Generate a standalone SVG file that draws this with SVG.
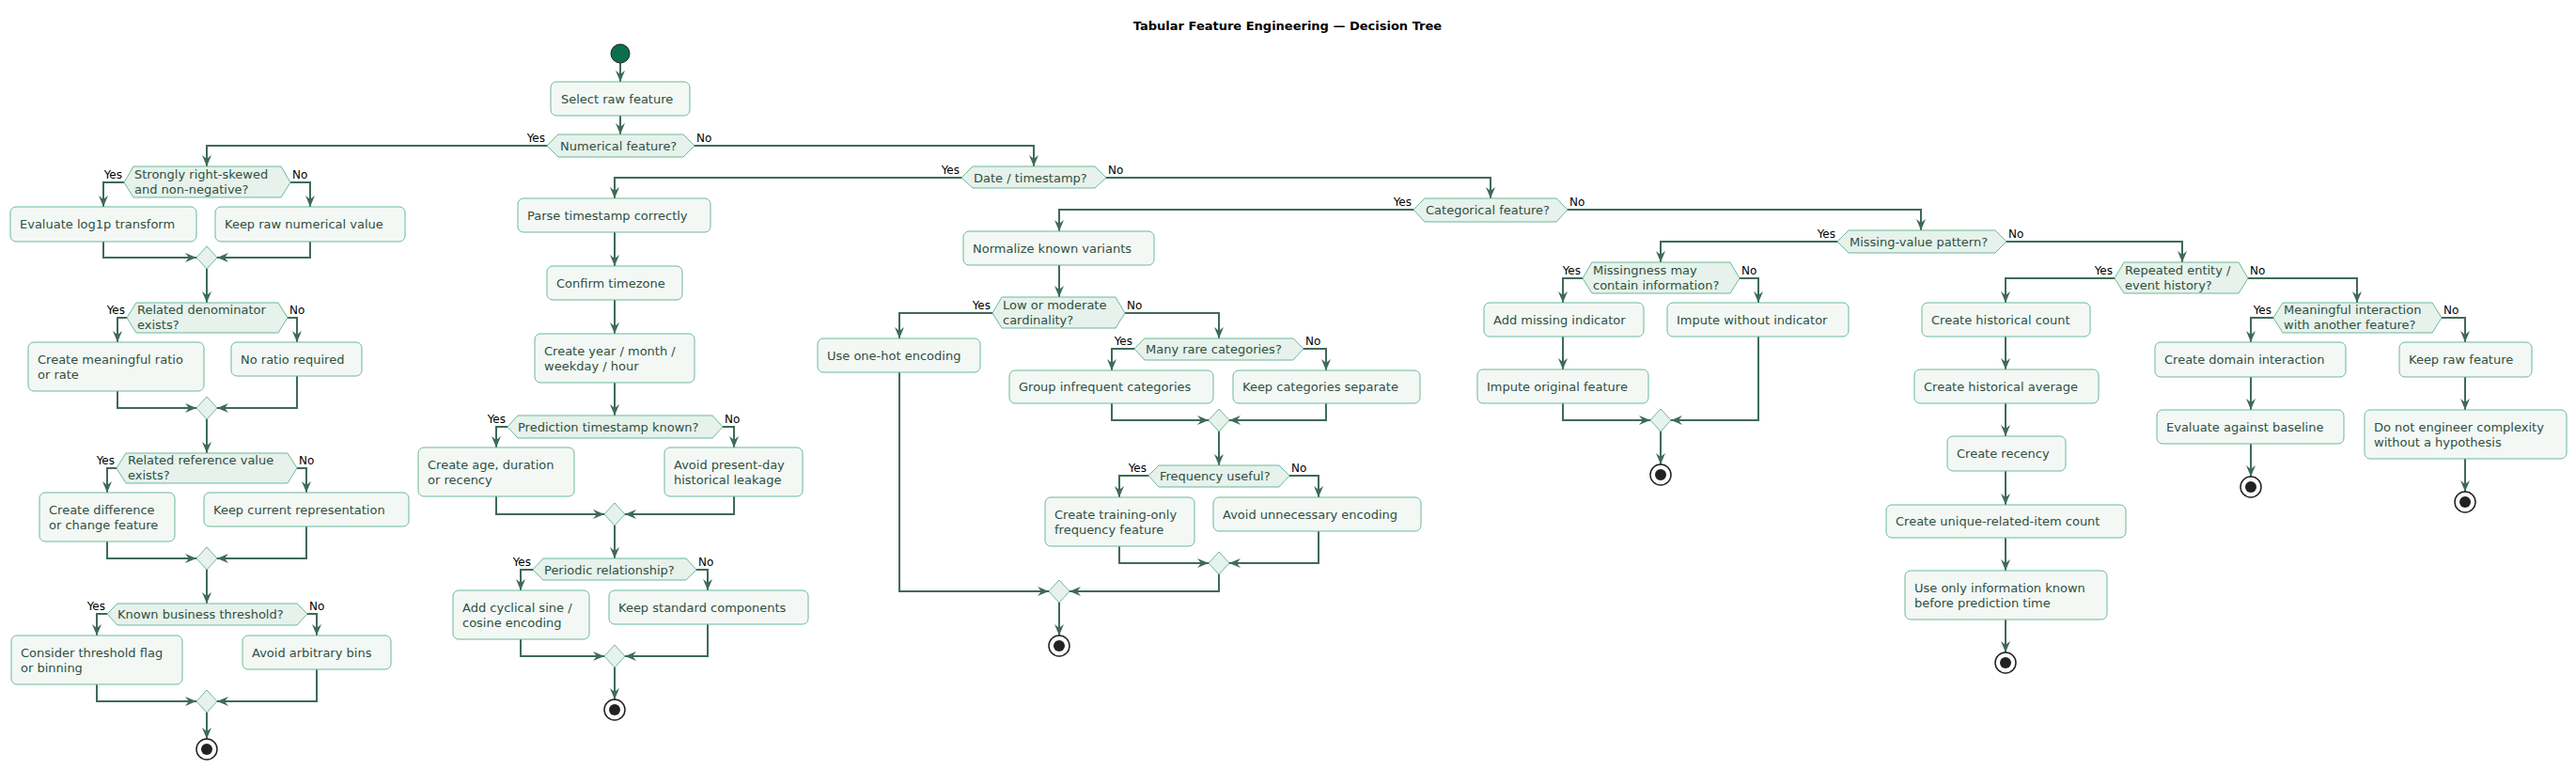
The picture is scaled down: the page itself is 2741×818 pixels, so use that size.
<svg xmlns="http://www.w3.org/2000/svg" width="2741" height="818" viewBox="0 0 2741 818">
<style>
.b{fill:#f3f8f5;stroke:#6bb99a;stroke-width:1}
.d{fill:#e6f2eb;stroke:#6bb99a;stroke-width:1}
.t{fill:#2f4f42;font-family:"DejaVu Sans",sans-serif;font-size:13px}
.l{fill:#000;font-family:"DejaVu Sans",sans-serif;font-size:12px}
.c{fill:none;stroke:#3f6a58;stroke-width:2}
.e1{fill:#fff;stroke:#222;stroke-width:1.5}
.e2{fill:#222}
</style>
<defs>
<marker id="a" markerUnits="userSpaceOnUse" markerWidth="12" markerHeight="10" refX="12" refY="5" orient="auto"><path d="M0,0 L12,5 L0,10 L4,5 z" fill="#3f6a58"/></marker>
</defs>
<rect width="2741" height="818" fill="#fff"/>
<text x="1370" y="32" text-anchor="middle" style="font-family:'DejaVu Sans',sans-serif;font-size:13px;font-weight:bold">Tabular Feature Engineering — Decision Tree</text>
<g id="connectors" class="c" marker-end="url(#a)">
<polyline points="660,67 660,87"/><polyline points="660,123 660,143"/>
<polyline points="582,155 220,155 220,177"/><polyline points="739,155 1100,155 1100,177"/>
<polyline points="132,194 110,194 110,220"/><polyline points="309,194 330,194 330,220"/>
<polyline points="110,257 110,274 209,274"/><polyline points="330,257 330,274 231,274"/>
<polyline points="220,286 220,322"/>
<polyline points="135,338 125,338 125,364"/><polyline points="306,338 316,338 316,364"/>
<polyline points="125,416 125,434 209,434"/><polyline points="316,400 316,434 231,434"/>
<polyline points="220,446 220,482"/>
<polyline points="124,498 114,498 114,524"/><polyline points="316,498 326,498 326,524"/>
<polyline points="114,576 114,594 209,594"/><polyline points="326,560 326,594 231,594"/>
<polyline points="220,606 220,642"/>
<polyline points="114,653 103,653 103,676"/><polyline points="327,653 337,653 337,676"/>
<polyline points="103,728 103,746 209,746"/><polyline points="337,712 337,746 231,746"/>
<polyline points="220,758 220,786"/>
<polyline points="1023,189 654,189 654,211"/><polyline points="1177,189 1586,189 1586,211"/>
<polyline points="654,247 654,283"/><polyline points="654,319 654,355"/><polyline points="654,407 654,442"/>
<polyline points="540,454 528,454 528,476"/><polyline points="769,454 781,454 781,476"/>
<polyline points="528,528 528,547 643,547"/><polyline points="781,528 781,547 665,547"/>
<polyline points="654,559 654,594"/>
<polyline points="567,606 554,606 554,628"/><polyline points="741,606 753,606 753,628"/>
<polyline points="554,680 554,698 643,698"/><polyline points="753,664 753,698 665,698"/>
<polyline points="654,710 654,744"/>
<polyline points="1504,223 1127,223 1127,246"/><polyline points="1668,223 2044,223 2044,245"/>
<polyline points="1127,282 1127,316"/>
<polyline points="1056,333 957,333 957,360"/><polyline points="1197,333 1297,333 1297,360"/>
<polyline points="957,396 957,629 1116,629"/>
<polyline points="1207,371 1183,371 1183,394"/><polyline points="1387,371 1411,371 1411,394"/>
<polyline points="1183,429 1183,447 1286,447"/><polyline points="1411,429 1411,447 1308,447"/>
<polyline points="1297,459 1297,495"/>
<polyline points="1222,506 1191,506 1191,529"/><polyline points="1372,506 1403,506 1403,529"/>
<polyline points="1191,581 1191,599 1286,599"/><polyline points="1403,565 1403,599 1308,599"/>
<polyline points="1297,611 1297,629 1138,629"/>
<polyline points="1127,641 1127,676"/>
<polyline points="1955,257 1767,257 1767,279"/><polyline points="2135,257 2322,257 2322,279"/>
<polyline points="1684,296 1663,296 1663,322"/><polyline points="1851,296 1871,296 1871,322"/>
<polyline points="1663,358 1663,393"/>
<polyline points="1663,429 1663,447 1756,447"/><polyline points="1871,358 1871,447 1778,447"/>
<polyline points="1767,459 1767,494"/>
<polyline points="2250,296 2134,296 2134,322"/><polyline points="2392,296 2508,296 2508,322"/>
<polyline points="2134,358 2134,393"/><polyline points="2134,429 2134,464"/><polyline points="2134,501 2134,537"/><polyline points="2134,572 2134,607"/><polyline points="2134,659 2134,694"/>
<polyline points="2419,338 2395,338 2395,364"/><polyline points="2598,338 2623,338 2623,364"/>
<polyline points="2395,401 2395,436"/><polyline points="2395,472 2395,507"/>
<polyline points="2623,401 2623,436"/><polyline points="2623,488 2623,523"/>
</g>
<g id="labels" class="l">
<text x="580" y="151" text-anchor="end">Yes</text><text x="741" y="151">No</text>
<text x="130" y="190" text-anchor="end">Yes</text><text x="311" y="190">No</text>
<text x="133" y="334" text-anchor="end">Yes</text><text x="308" y="334">No</text>
<text x="122" y="494" text-anchor="end">Yes</text><text x="318" y="494">No</text>
<text x="112" y="649" text-anchor="end">Yes</text><text x="329" y="649">No</text>
<text x="1021" y="185" text-anchor="end">Yes</text><text x="1179" y="185">No</text>
<text x="538" y="450" text-anchor="end">Yes</text><text x="771" y="450">No</text>
<text x="565" y="602" text-anchor="end">Yes</text><text x="743" y="602">No</text>
<text x="1502" y="219" text-anchor="end">Yes</text><text x="1670" y="219">No</text>
<text x="1054" y="329" text-anchor="end">Yes</text><text x="1199" y="329">No</text>
<text x="1205" y="367" text-anchor="end">Yes</text><text x="1389" y="367">No</text>
<text x="1220" y="502" text-anchor="end">Yes</text><text x="1374" y="502">No</text>
<text x="1953" y="253" text-anchor="end">Yes</text><text x="2137" y="253">No</text>
<text x="1682" y="292" text-anchor="end">Yes</text><text x="1853" y="292">No</text>
<text x="2248" y="292" text-anchor="end">Yes</text><text x="2394" y="292">No</text>
<text x="2417" y="334" text-anchor="end">Yes</text><text x="2600" y="334">No</text>
</g>
<g id="start"><circle cx="660" cy="57" r="10" fill="#0b6e4f" stroke="#222" stroke-width="1"/></g>
<g id="n_select"><rect class="b" x="586" y="87" width="148" height="36" rx="6"/><text class="t" x="597" y="110">Select raw feature</text></g>
<g id="d_numerical"><polygon class="d" points="582,155 594,143 727,143 739,155 727,167 594,167"/><text class="t" x="596" y="160">Numerical feature?</text></g>
<g id="d_skewed"><polygon class="d" points="132,194 142,177 299,177 309,194 299,210 142,210"/><text class="t" x="143" y="190">Strongly right-skewed</text><text class="t" x="143" y="206">and non-negative?</text></g>
<g id="n_log1p"><rect class="b" x="11" y="220" width="198" height="37" rx="6"/><text class="t" x="21" y="243">Evaluate log1p transform</text></g>
<g id="n_keepnum"><rect class="b" x="229" y="220" width="202" height="37" rx="6"/><text class="t" x="239" y="243">Keep raw numerical value</text></g>
<g id="m1"><polygon class="d" points="220,262 231,274 220,286 209,274"/></g>
<g id="d_denom"><polygon class="d" points="135,338 145,322 296,322 306,338 296,354 145,354"/><text class="t" x="146" y="334">Related denominator</text><text class="t" x="146" y="350">exists?</text></g>
<g id="n_ratio"><rect class="b" x="30" y="364" width="187" height="52" rx="6"/><text class="t" x="40" y="387">Create meaningful ratio</text><text class="t" x="40" y="403">or rate</text></g>
<g id="n_noratio"><rect class="b" x="246" y="364" width="139" height="36" rx="6"/><text class="t" x="256" y="387">No ratio required</text></g>
<g id="m2"><polygon class="d" points="220,422 231,434 220,446 209,434"/></g>
<g id="d_reference"><polygon class="d" points="124,498 134,482 306,482 316,498 306,514 134,514"/><text class="t" x="136" y="494">Related reference value</text><text class="t" x="136" y="510">exists?</text></g>
<g id="n_diff"><rect class="b" x="42" y="524" width="144" height="52" rx="6"/><text class="t" x="52" y="547">Create difference</text><text class="t" x="52" y="563">or change feature</text></g>
<g id="n_keepcur"><rect class="b" x="217" y="524" width="218" height="36" rx="6"/><text class="t" x="227" y="547">Keep current representation</text></g>
<g id="m3"><polygon class="d" points="220,582 231,594 220,606 209,594"/></g>
<g id="d_threshold"><polygon class="d" points="114,653 125,642 316,642 327,653 316,665 125,665"/><text class="t" x="125" y="658">Known business threshold?</text></g>
<g id="n_flag"><rect class="b" x="12" y="676" width="182" height="52" rx="6"/><text class="t" x="22" y="699">Consider threshold flag</text><text class="t" x="22" y="715">or binning</text></g>
<g id="n_bins"><rect class="b" x="258" y="676" width="158" height="36" rx="6"/><text class="t" x="268" y="699">Avoid arbitrary bins</text></g>
<g id="m4"><polygon class="d" points="220,734 231,746 220,758 209,746"/></g>
<g id="end1"><circle class="e1" cx="220" cy="797" r="11"/><circle class="e2" cx="220" cy="797" r="6"/></g>
<g id="d_date"><polygon class="d" points="1023,189 1035,177 1165,177 1177,189 1165,200 1035,200"/><text class="t" x="1036" y="194">Date / timestamp?</text></g>
<g id="n_parse"><rect class="b" x="551" y="211" width="205" height="36" rx="6"/><text class="t" x="561" y="234">Parse timestamp correctly</text></g>
<g id="n_tz"><rect class="b" x="582" y="283" width="144" height="36" rx="6"/><text class="t" x="592" y="306">Confirm timezone</text></g>
<g id="n_year"><rect class="b" x="569" y="355" width="170" height="52" rx="6"/><text class="t" x="579" y="378">Create year / month /</text><text class="t" x="579" y="394">weekday / hour</text></g>
<g id="d_predts"><polygon class="d" points="540,454 551,442 758,442 769,454 758,466 551,466"/><text class="t" x="551" y="459">Prediction timestamp known?</text></g>
<g id="n_age"><rect class="b" x="445" y="476" width="166" height="52" rx="6"/><text class="t" x="455" y="499">Create age, duration</text><text class="t" x="455" y="515">or recency</text></g>
<g id="n_leak"><rect class="b" x="707" y="476" width="147" height="52" rx="6"/><text class="t" x="717" y="499">Avoid present-day</text><text class="t" x="717" y="515">historical leakage</text></g>
<g id="m5"><polygon class="d" points="654,535 665,547 654,559 643,547"/></g>
<g id="d_periodic"><polygon class="d" points="567,606 578,594 730,594 741,606 730,617 578,617"/><text class="t" x="579" y="611">Periodic relationship?</text></g>
<g id="n_cyc"><rect class="b" x="482" y="628" width="145" height="52" rx="6"/><text class="t" x="492" y="651">Add cyclical sine /</text><text class="t" x="492" y="667">cosine encoding</text></g>
<g id="n_std"><rect class="b" x="648" y="628" width="212" height="36" rx="6"/><text class="t" x="658" y="651">Keep standard components</text></g>
<g id="m6"><polygon class="d" points="654,686 665,698 654,710 643,698"/></g>
<g id="end2"><circle class="e1" cx="654" cy="755" r="11"/><circle class="e2" cx="654" cy="755" r="6"/></g>
<g id="d_cat"><polygon class="d" points="1504,223 1516,211 1656,211 1668,223 1656,236 1516,236"/><text class="t" x="1517" y="228">Categorical feature?</text></g>
<g id="n_norm"><rect class="b" x="1025" y="246" width="203" height="36" rx="6"/><text class="t" x="1035" y="269">Normalize known variants</text></g>
<g id="d_lowcard"><polygon class="d" points="1056,333 1066,316 1187,316 1197,333 1187,349 1066,349"/><text class="t" x="1067" y="329">Low or moderate</text><text class="t" x="1067" y="345">cardinality?</text></g>
<g id="n_onehot"><rect class="b" x="870" y="360" width="173" height="36" rx="6"/><text class="t" x="880" y="383">Use one-hot encoding</text></g>
<g id="d_rare"><polygon class="d" points="1207,371 1218,360 1376,360 1387,371 1376,383 1218,383"/><text class="t" x="1219" y="376">Many rare categories?</text></g>
<g id="n_group"><rect class="b" x="1074" y="394" width="217" height="35" rx="6"/><text class="t" x="1084" y="416">Group infrequent categories</text></g>
<g id="n_sep"><rect class="b" x="1312" y="394" width="199" height="35" rx="6"/><text class="t" x="1322" y="416">Keep categories separate</text></g>
<g id="m7"><polygon class="d" points="1297,435 1308,447 1297,459 1286,447"/></g>
<g id="d_freq"><polygon class="d" points="1222,506 1233,495 1361,495 1372,506 1361,518 1233,518"/><text class="t" x="1234" y="511">Frequency useful?</text></g>
<g id="n_freqf"><rect class="b" x="1112" y="529" width="159" height="52" rx="6"/><text class="t" x="1122" y="552">Create training-only</text><text class="t" x="1122" y="568">frequency feature</text></g>
<g id="n_unnec"><rect class="b" x="1291" y="529" width="221" height="36" rx="6"/><text class="t" x="1301" y="552">Avoid unnecessary encoding</text></g>
<g id="m8"><polygon class="d" points="1297,587 1308,599 1297,611 1286,599"/></g>
<g id="m9"><polygon class="d" points="1127,617 1138,629 1127,641 1116,629"/></g>
<g id="end3"><circle class="e1" cx="1127" cy="687" r="11"/><circle class="e2" cx="1127" cy="687" r="6"/></g>
<g id="d_missing"><polygon class="d" points="1955,257 1967,245 2123,245 2135,257 2123,269 1967,269"/><text class="t" x="1968" y="262">Missing-value pattern?</text></g>
<g id="d_missinfo"><polygon class="d" points="1684,296 1694,279 1841,279 1851,296 1841,312 1694,312"/><text class="t" x="1695" y="292">Missingness may</text><text class="t" x="1695" y="308">contain information?</text></g>
<g id="n_addind"><rect class="b" x="1579" y="322" width="170" height="36" rx="6"/><text class="t" x="1589" y="345">Add missing indicator</text></g>
<g id="n_impwo"><rect class="b" x="1774" y="322" width="193" height="36" rx="6"/><text class="t" x="1784" y="345">Impute without indicator</text></g>
<g id="n_imporig"><rect class="b" x="1572" y="393" width="182" height="36" rx="6"/><text class="t" x="1582" y="416">Impute original feature</text></g>
<g id="m10"><polygon class="d" points="1767,435 1778,447 1767,459 1756,447"/></g>
<g id="end4"><circle class="e1" cx="1767" cy="505" r="11"/><circle class="e2" cx="1767" cy="505" r="6"/></g>
<g id="d_repeated"><polygon class="d" points="2250,296 2260,279 2382,279 2392,296 2382,312 2260,312"/><text class="t" x="2261" y="292">Repeated entity /</text><text class="t" x="2261" y="308">event history?</text></g>
<g id="n_hcount"><rect class="b" x="2045" y="322" width="179" height="36" rx="6"/><text class="t" x="2055" y="345">Create historical count</text></g>
<g id="n_havg"><rect class="b" x="2037" y="393" width="196" height="36" rx="6"/><text class="t" x="2047" y="416">Create historical average</text></g>
<g id="n_recency"><rect class="b" x="2072" y="464" width="126" height="37" rx="6"/><text class="t" x="2082" y="487">Create recency</text></g>
<g id="n_unique"><rect class="b" x="2007" y="537" width="255" height="35" rx="6"/><text class="t" x="2017" y="559">Create unique-related-item count</text></g>
<g id="n_useonly"><rect class="b" x="2027" y="607" width="215" height="52" rx="6"/><text class="t" x="2037" y="630">Use only information known</text><text class="t" x="2037" y="646">before prediction time</text></g>
<g id="end5"><circle class="e1" cx="2134" cy="705" r="11"/><circle class="e2" cx="2134" cy="705" r="6"/></g>
<g id="d_interact"><polygon class="d" points="2419,338 2429,322 2588,322 2598,338 2588,354 2429,354"/><text class="t" x="2430" y="334">Meaningful interaction</text><text class="t" x="2430" y="350">with another feature?</text></g>
<g id="n_domain"><rect class="b" x="2293" y="364" width="203" height="37" rx="6"/><text class="t" x="2303" y="387">Create domain interaction</text></g>
<g id="n_baseline"><rect class="b" x="2295" y="436" width="199" height="36" rx="6"/><text class="t" x="2305" y="459">Evaluate against baseline</text></g>
<g id="end6"><circle class="e1" cx="2395" cy="518" r="11"/><circle class="e2" cx="2395" cy="518" r="6"/></g>
<g id="n_keepraw"><rect class="b" x="2553" y="364" width="141" height="37" rx="6"/><text class="t" x="2563" y="387">Keep raw feature</text></g>
<g id="n_donot"><rect class="b" x="2516" y="436" width="215" height="52" rx="6"/><text class="t" x="2526" y="459">Do not engineer complexity</text><text class="t" x="2526" y="475">without a hypothesis</text></g>
<g id="end7"><circle class="e1" cx="2623" cy="534" r="11"/><circle class="e2" cx="2623" cy="534" r="6"/></g>
</svg>
